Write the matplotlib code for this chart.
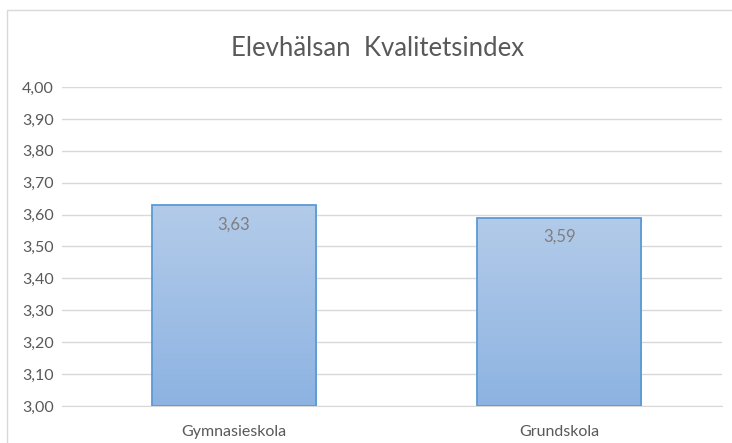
import numpy as np
import matplotlib.pyplot as plt
from matplotlib.patches import Rectangle
from matplotlib.colors import LinearSegmentedColormap

plt.rcParams['font.family'] = ['Lato', 'DejaVu Sans']

categories = ['Gymnasieskola', 'Grundskola']
values = [3.63, 3.59]
title = 'Elevhälsan  Kvalitetsindex'

fig = plt.figure(figsize=(7.32, 4.43), dpi=100)
# outer chart frame
fig.add_artist(Rectangle((7 / 732, -0.1), 1.0, 1 - 10 / 443 + 0.1, transform=fig.transFigure,
                         fill=False, edgecolor='#d9d9d9', linewidth=1))

ax = fig.add_axes([62 / 732, 1 - 406 / 443, 660 / 732, 319 / 443])
xlim = (-0.529, 1.50)
ax.set_yticks(np.arange(3.0, 4.001, 0.1))
ax.set_yticklabels([f'{t:.2f}'.replace('.', ',') for t in np.arange(3.0, 4.001, 0.1)])
ax.set_xticks(range(len(categories)))
ax.set_xticklabels(categories)
ax.tick_params(axis='both', length=0, labelsize=11.5, colors='#595959')
ax.tick_params(axis='y', pad=6)
ax.tick_params(axis='x', pad=14)
ax.grid(axis='y', color='#d9d9d9', linewidth=1)
ax.set_axisbelow(True)
for s in ['top', 'right', 'left']:
    ax.spines[s].set_visible(False)
ax.spines['bottom'].set_color('#d9d9d9')

cmap = LinearSegmentedColormap.from_list('g', ['#8db3e2', '#b3cbe9'])
grad = np.linspace(0, 1, 256).reshape(-1, 1)
bars = ax.bar(range(len(categories)), [v - 3.0 for v in values], bottom=3.0, width=0.505,
              color='none', edgecolor='#5b9bd5', linewidth=1.3, zorder=3)
for b, v in zip(bars, values):
    x0, w = b.get_x(), b.get_width()
    im = ax.imshow(grad, cmap=cmap, aspect='auto', origin='lower',
                   extent=[x0, x0 + w, 3.0, v], zorder=2)
    im.set_clip_path(b)
    ax.text(x0 + w / 2, v - 0.06, f'{v:.2f}'.replace('.', ','), ha='center', va='center',
            fontsize=12, color='#7f7f7f', zorder=4)
ax.set_xlim(*xlim)
ax.set_ylim(3.0, 4.0)

fig.text(378 / 732, 1 - 48 / 443, title, ha='center', va='center', fontsize=18.5, color='#595959')

fig.savefig('out.png', dpi=100)
